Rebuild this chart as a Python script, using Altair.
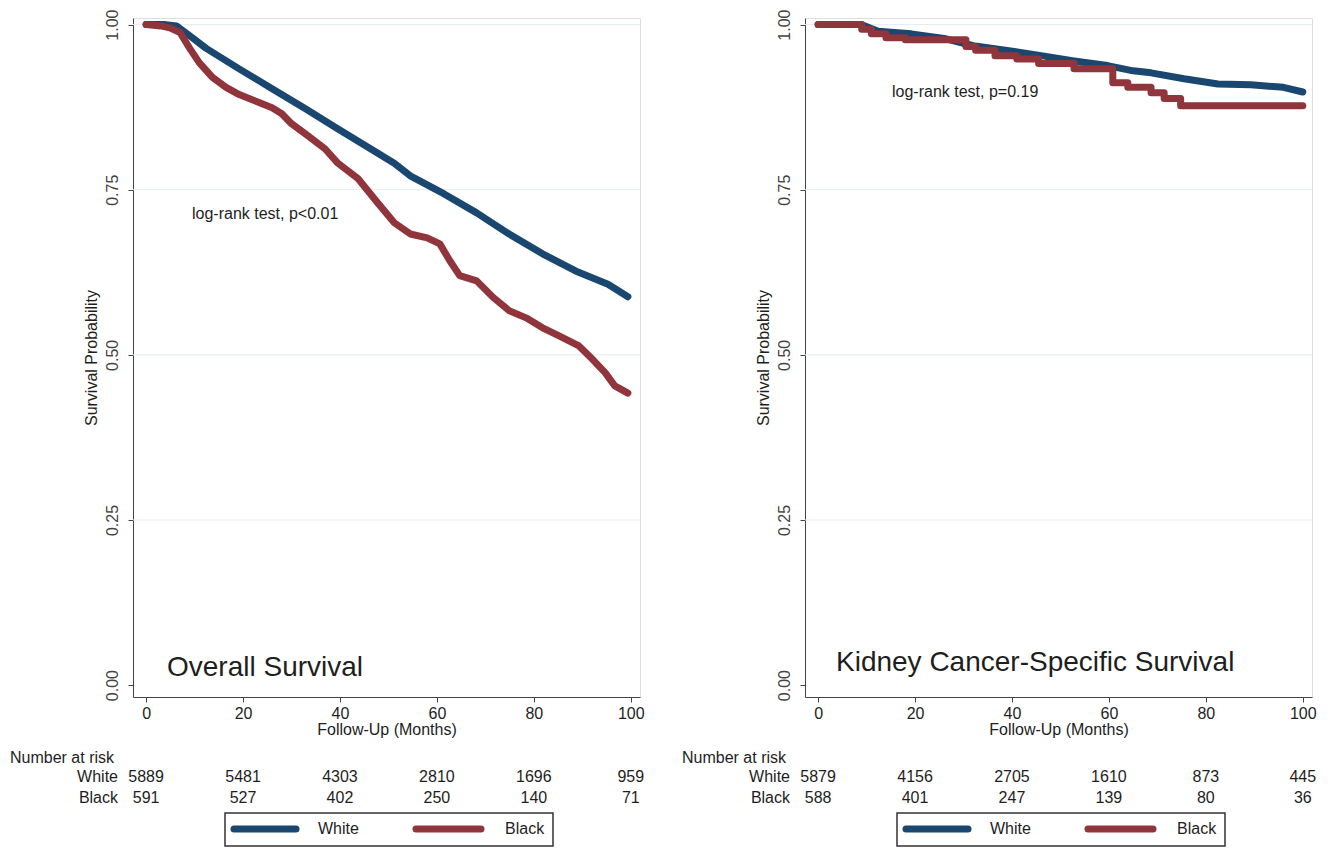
import altair as alt
import pandas as pd

# ---------------- data ----------------
groups = ["White", "Black"]
colors = ["#1a476f", "#90353b"]

# Overall survival
os_white_t = [0, 4, 6.3, 9, 12.4, 19.2, 26, 32.8, 39.6, 46.3, 51.2, 54.5, 61.4, 68.2, 74.9, 81.8, 88.6, 95.3, 99.4]
os_white_s = [1.0, 1.0, 0.998, 0.983, 0.964, 0.933, 0.903, 0.873, 0.842, 0.812, 0.79, 0.771, 0.744, 0.715, 0.683, 0.653, 0.627, 0.607, 0.588]

os_black_t = [0, 3, 4.9, 7, 9, 11, 13.7, 16.5, 19.2, 23.3, 26, 28, 30, 32.8, 36.9, 39.6, 43.7, 47.8, 51.2, 54.5, 58,
              60.6, 62.7, 64.7, 68.2, 71.6, 74.9, 78.4, 81.8, 85.1, 89.2, 92, 94.7, 96.7, 99.4]
os_black_s = [1.0, 0.998, 0.995, 0.988, 0.964, 0.942, 0.92, 0.905, 0.894, 0.882, 0.874, 0.865, 0.85, 0.835, 0.812, 0.79,
              0.767, 0.73, 0.70, 0.683, 0.677, 0.668, 0.642, 0.62, 0.612, 0.587, 0.567, 0.556, 0.541, 0.529, 0.514, 0.494,
              0.473, 0.453, 0.442]

# Kidney cancer-specific survival
ks_white_t = [0, 8.9, 12.4, 15.7, 19.2, 26, 32, 39, 46, 52.8, 59.7, 65, 68.7, 75.5, 82.5, 89.3, 96, 100]
ks_white_s = [1.0, 1.0, 0.99, 0.988, 0.986, 0.979, 0.968, 0.961, 0.953, 0.945, 0.938, 0.93, 0.927, 0.918, 0.91, 0.909, 0.905, 0.898]

ks_black_t = [0, 9, 11, 14, 18, 30.5, 32.5, 36.5, 41, 45.5, 52.8, 60.8, 63.9, 68.7, 71.4, 74.8, 100]
ks_black_s = [1.0, 0.993, 0.986, 0.98, 0.977, 0.967, 0.961, 0.953, 0.948, 0.941, 0.933, 0.912, 0.905, 0.897, 0.888, 0.877, 0.877]

# number at risk
risk_times = [0, 20, 40, 60, 80, 100]
os_risk_white = [5889, 5481, 4303, 2810, 1696, 959]
os_risk_black = [591, 527, 402, 250, 140, 71]
ks_risk_white = [5879, 4156, 2705, 1610, 873, 445]
ks_risk_black = [588, 401, 247, 139, 80, 36]

y_ticks = [0, 0.25, 0.5, 0.75, 1.0]
grid_vals = [0.25, 0.5, 0.75, 1.0]

FONT = "Liberation Sans"
TXT = "#1e1e1e"
W, H = 507, 679


def panel(wt, ws, bt, bs, black_interp, risk_w, risk_b, big_title, big_pos, pval, pval_pos):
    xs = alt.Scale(domain=[-2.7, 101.9], nice=False, zero=False)
    ys = alt.Scale(domain=[-0.018, 1.01], nice=False, zero=False)
    cs = alt.Scale(domain=groups, range=colors)
    x_axis = alt.Axis(values=risk_times, title="Follow-Up (Months)", grid=False, format="d",
                      labelFontSize=16, titleFontSize=16, titleFontWeight="normal",
                      labelColor=TXT, titleColor=TXT, tickSize=5, tickColor="#444",
                      domainColor="#444", labelPadding=3, titlePadding=0, labelFont=FONT, titleFont=FONT)
    y_axis = alt.Axis(values=y_ticks, title="Survival Probability", grid=False, format=".2f",
                      labelAngle=270, labelAlign="center", labelBaseline="bottom",
                      labelFontSize=16, titleFontSize=16, titleFontWeight="normal",
                      labelColor="#444", titleColor=TXT, tickSize=5, tickColor="#444",
                      domainColor="#444", labelPadding=8, titlePadding=5, labelFont=FONT, titleFont=FONT)

    X = lambda f: alt.X(f, scale=xs, axis=x_axis)
    Y = lambda f: alt.Y(f, scale=ys, axis=y_axis)

    grid = alt.Chart(pd.DataFrame({"g": grid_vals})).mark_rule(color="#e4edf0", strokeWidth=1).encode(
        y=Y("g:Q"))

    white = pd.DataFrame({"t": wt, "s": ws, "group": "White"})
    black = pd.DataFrame({"t": bt, "s": bs, "group": "Black"})
    line_w = alt.Chart(white).mark_line(strokeWidth=7, strokeCap="round", strokeJoin="round",
                                        interpolate="linear").encode(
        x=X("t:Q"), y=Y("s:Q"), color=alt.Color("group:N", scale=cs, legend=None))
    line_b = alt.Chart(black).mark_line(strokeWidth=7, strokeCap="round", strokeJoin="round",
                                        interpolate=black_interp).encode(
        x=X("t:Q"), y=Y("s:Q"), color=alt.Color("group:N", scale=cs, legend=None))

    big = alt.Chart(pd.DataFrame({"label": [big_title]})).mark_text(
        align="left", baseline="alphabetic", fontSize=28, font=FONT, color=TXT).encode(
        x=alt.value(big_pos[0]), y=alt.value(big_pos[1]), text="label:N")
    pv = alt.Chart(pd.DataFrame({"label": [pval]})).mark_text(
        align="left", baseline="alphabetic", fontSize=16, font=FONT, color=TXT).encode(
        x=alt.value(pval_pos[0]), y=alt.value(pval_pos[1]), text="label:N")

    # number at risk table
    risk = pd.DataFrame({"t": risk_times, "White": risk_w, "Black": risk_b})
    hdr = alt.Chart(pd.DataFrame({"label": ["Number at risk"]})).mark_text(
        align="left", baseline="middle", fontSize=16, font=FONT, color=TXT).encode(
        x=alt.value(-123), y=alt.value(740), text="label:N")
    rows = []
    for g, yv in zip(groups, [759, 780]):
        rows.append(alt.Chart(risk).mark_text(align="center", baseline="middle", fontSize=16,
                                              font=FONT, color=TXT).encode(
            x=X("t:Q"), y=alt.value(yv), text=alt.Text(f"{g}:Q", format="d")))
        rows.append(alt.Chart(pd.DataFrame({"label": [g]})).mark_text(
            align="right", baseline="middle", fontSize=16, font=FONT, color=TXT).encode(
            x=alt.value(-15), y=alt.value(yv), text="label:N"))

    # legend box
    box = alt.Chart(pd.DataFrame({"k": [1]})).mark_rect(fill="white", stroke="#333", strokeWidth=1.5).encode(
        x=alt.value(92), x2=alt.value(420), y=alt.value(795), y2=alt.value(828))
    leg = []
    for g, c, (x0, x1, xt) in zip(groups, colors, [(101, 163, 185), (283, 348, 372)]):
        leg.append(alt.Chart(pd.DataFrame({"label": [g]})).mark_rule(
            color=c, strokeWidth=7, strokeCap="round").encode(
            x=alt.value(x0), x2=alt.value(x1), y=alt.value(811)))
        leg.append(alt.Chart(pd.DataFrame({"label": [g]})).mark_text(
            align="left", baseline="middle", fontSize=16, font=FONT, color=TXT).encode(
            x=alt.value(xt), y=alt.value(811), text="label:N"))

    return alt.layer(grid, line_w, line_b, big, pv, hdr, *rows, box, *leg).properties(width=W, height=H)


left = panel(os_white_t, os_white_s, os_black_t, os_black_s, "linear",
             os_risk_white, os_risk_black, "Overall Survival", (34, 658),
             "log-rank test, p<0.01", (59, 201))
right = panel(ks_white_t, ks_white_s, ks_black_t, ks_black_s, "step-after",
              ks_risk_white, ks_risk_black, "Kidney Cancer-Specific Survival", (31, 653),
              "log-rank test, p=0.19", (87, 79))

chart = alt.hconcat(left, right, spacing=36).properties(
    padding={"left": 1, "top": 0, "right": 2, "bottom": 0}
).configure_view(stroke=None).configure(font=FONT, background="white")

chart.save("out.html", embed_options={"renderer": "svg", "actions": False})
